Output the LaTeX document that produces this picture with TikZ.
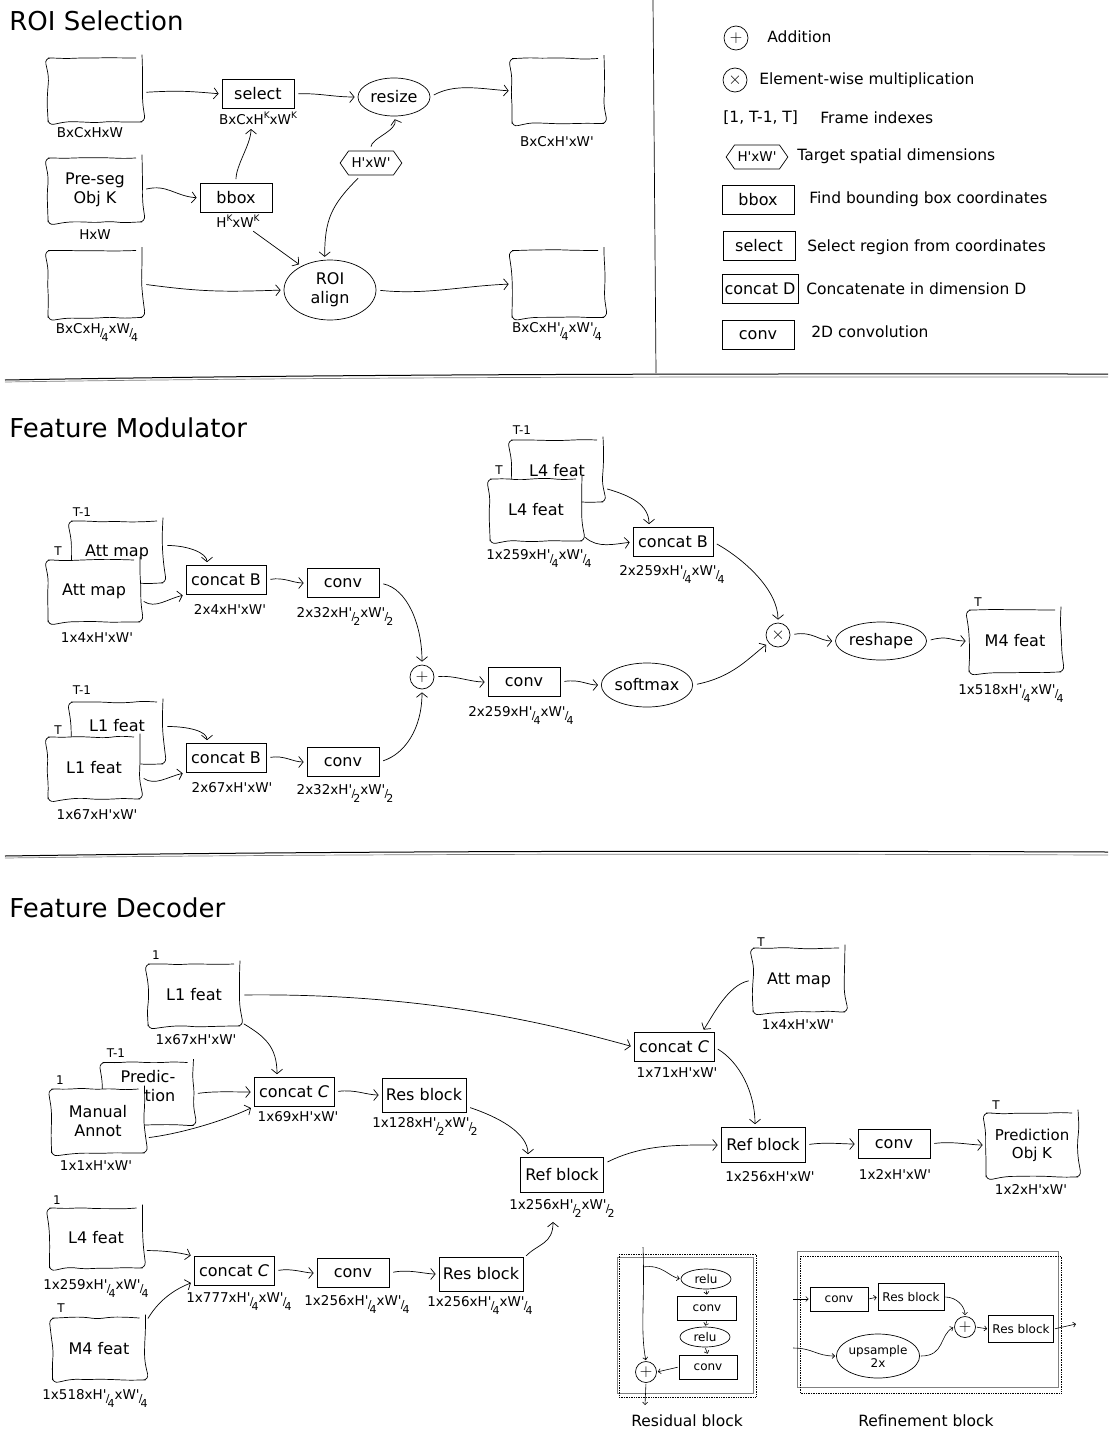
\documentclass[tikz,border=0pt]{standalone}
\usepackage{fontspec}
\setmainfont{DejaVu Sans}[Ligatures=TeXOff]
\usetikzlibrary{arrows.meta,shapes.geometric,shapes.symbols,decorations.pathmorphing}

\newcommand{\ttltxt}{\fontsize{26}{30}\selectfont}
\newcommand{\nodetxt}{\fontsize{16}{19}\selectfont}
\newcommand{\legtxtsize}{\fontsize{15.5}{18}\selectfont}
\newcommand{\dimtxt}{\fontsize{13.5}{15}\selectfont}
\newcommand{\idxtxt}{\fontsize{12}{13}\selectfont}
\newcommand{\tinytxt}{\fontsize{12}{13}\selectfont}
% fraction style /2 /4 and superscript K
\newcommand{\fq}[1]{\kern-0.05em\raisebox{-0.45ex}{\fontsize{11}{11}\selectfont/}\kern-0.15em\raisebox{-1.1ex}{\fontsize{11}{11}\selectfont #1}}
\newcommand{\kk}{\raisebox{0.85ex}{\fontsize{9}{9}\selectfont K}}

\tikzset{
  fmap/.style={draw, fill=white, rounded corners=6pt, decorate,
    decoration={random steps,segment length=14pt,amplitude=1pt},
    minimum width=92pt, minimum height=62pt, align=center, font=\nodetxt, inner sep=2pt},
  opbox/.style={draw, fill=white, minimum width=72pt, minimum height=29pt, inner sep=2pt, font=\nodetxt},
  opell/.style={draw, ellipse, inner sep=0pt, align=center, font=\nodetxt},
  hexa/.style={draw, signal, signal to=east and west, signal pointer angle=110,
    minimum height=24pt, inner sep=3pt, font=\dimtxt},
  sumnode/.style={draw, circle, minimum size=24pt, inner sep=0pt, font=\nodetxt},
  dimlab/.style={font=\dimtxt, anchor=base, inner sep=1pt},
  idx/.style={font=\idxtxt, inner sep=1pt},
  ttl/.style={font=\ttltxt, anchor=west, inner sep=0pt},
  legtxt/.style={font=\legtxtsize, anchor=west, inner sep=0pt},
  arr/.style={-{Straight Barb[length=4.5pt,width=11pt]}, shorten <=4pt, shorten >=3pt, line width=0.7pt},
  sarr/.style={-{Straight Barb[length=2.5pt,width=5pt]}, shorten <=1pt, shorten >=1pt, line width=0.6pt},
}

\begin{document}
\begin{tikzpicture}[x=1pt,y=-1pt,line width=0.7pt]
\useasboundingbox (0,0) rectangle (1110,1432);

%Separators
\draw (653,0) -- (656,373);
\draw[line width=1pt] (5,380) .. controls (400,373) and (800,374) .. (1108,374);
\draw[gray] (5,382) .. controls (400,376) and (800,377) .. (1108,377);
\draw[line width=1pt] (5,856) .. controls (400,850) and (800,851) .. (1108,852);
\draw[gray] (5,858) .. controls (400,853) and (800,854) .. (1108,855);

%%%%%%%%%%%%%%%%%%%%%%%% ROI Selection
\node[ttl] (roiTitle) at (9,21) {ROI Selection};

%Shape: feature maps
\node[fmap, minimum width=94pt, minimum height=64pt] (inA) at (95,90) {};
\node[fmap, minimum width=94pt, minimum height=64pt] (preseg) at (95,190) {Pre-seg\\Obj K};
\node[fmap, minimum width=94pt, minimum height=67pt] (inB) at (95,284) {};
\node[fmap, minimum width=92pt, minimum height=65pt] (outA) at (558,91) {};
\node[fmap, minimum width=92pt, minimum height=67pt] (outB) at (558,284) {};

%Shape: operations
\node[opbox] (select) at (258,94) {select};
\node[opbox] (bbox) at (236,198) {bbox};
\node[opell, minimum width=72pt, minimum height=38pt] (resize) at (394,97) {resize};
\node[hexa] (hw) at (371,163) {H'xW'};
\node[opell, minimum width=92pt, minimum height=60pt] (roialign) at (330,290) {ROI\\align};

% Text Node
\node[dimlab] (inALab) at (90,137.5) {BxCxHxW};
\node[dimlab] (presegLab) at (95,239.5) {HxW};
\node[dimlab] (inBLab) at (97,333) {BxCxH\fq4xW\fq4};
\node[dimlab] (outALab) at (557,146.5) {BxCxH'xW'};
\node[dimlab] (outBLab) at (557,332.5) {BxCxH'\fq4xW'\fq4};
\node[dimlab] (selLab) at (258,124.5) {BxCxH\kk{}xW\kk};
\node[dimlab] (bboxLab) at (238,227.5) {H\kk{}xW\kk};

%Connectors
\draw[arr] (inA.-3) .. controls +(35,-2) and +(-35,-3) .. (select.west);
\draw[arr] (select.east) .. controls +(25,-1) and +(-25,0) .. (resize.west);
\draw[arr] (resize.east) .. controls +(25,-14) and +(-30,-2) .. (outA.west);
\draw[arr] (preseg.east) .. controls +(25,-6) and +(-25,-2) .. (bbox.west);
\draw[arr] (bbox.north) .. controls +(0,-18) and +(0,18) .. ([xshift=-7pt]selLab.south);
\draw[arr] (hw.north) .. controls +(0,-12) and +(4,14) .. (resize.south);
\draw[arr] ([xshift=-10pt]hw.south) .. controls +(-30,30) and +(0,-40) .. (roialign.100);
\draw[arr] ([xshift=12pt]bboxLab.south) -- (roialign.140);
\draw[arr] (inB.east) .. controls +(60,8) and +(-60,2) .. (roialign.west);
\draw[arr] (roialign.east) .. controls +(50,5) and +(-50,2) .. (outB.west);

%%%%%%%%%%%%%%%%%%%%%%%% Legend
\node[sumnode] (lgAdd) at (736,38) {$+$};
\node[legtxt] (lgAddT) at (767,37) {Addition};
\node[sumnode] (lgMul) at (735,80) {$\times$};
\node[legtxt] (lgMulT) at (759,80) {Element-wise multiplication};
\node[legtxt] (lgIdx) at (723,118) {[1, T-1, T]};
\node[legtxt] (lgIdxT) at (820,118) {Frame indexes};
\node[hexa] (lgHw) at (757,157) {H'xW'};
\node[legtxt] (lgHwT) at (797,156) {Target spatial dimensions};
\node[opbox] (lgBbox) at (758,200) {bbox};
\node[legtxt] (lgBboxT) at (809,199) {Find bounding box coordinates};
\node[opbox] (lgSel) at (759,246) {select};
\node[legtxt] (lgSelT) at (807,247) {Select region from coordinates};
\node[opbox, minimum width=76pt, inner sep=1pt] (lgCat) at (760,289) {concat D};
\node[legtxt] (lgCatT) at (806,289) {Concatenate in dimension D};
\node[opbox] (lgConv) at (758,335) {conv};
\node[legtxt] (lgConvT) at (811,332) {2D convolution};

%%%%%%%%%%%%%%%%%%%%%%%% Feature Modulator
\node[ttl] (modTitle) at (9,428) {Feature Modulator};

%Shape: stacked inputs
\node[fmap] (attBack) at (117,552) {Att map};
\node[fmap] (attFront) at (94,591) {Att map};
\node[idx] (attIdxA) at (82,512) {T-1};
\node[idx] (attIdxB) at (58,551) {T};
\node[dimlab] (attLab) at (97,642) {1x4xH'xW'};

\node[fmap, text depth=16pt] (l1Back) at (117,733) {L1 feat};
\node[fmap] (l1Front) at (94,768) {L1 feat};
\node[idx] (l1IdxA) at (82,690) {T-1};
\node[idx] (l1IdxB) at (58,730) {T};
\node[dimlab] (l1Lab) at (97,819.5) {1x67xH'xW'};

\node[fmap] (l4Back) at (557,471) {L4 feat};
\node[fmap] (l4Front) at (536,510) {L4 feat};
\node[idx] (l4IdxA) at (522,430) {T-1};
\node[idx] (l4IdxB) at (499,470) {T};
\node[dimlab] (l4Lab) at (539,559.5) {1x259xH'\fq4xW'\fq4};

%Shape: operations
\node[opbox, minimum width=80pt] (catB1) at (226,580) {concat B};
\node[dimlab] (catB1Lab) at (230,614) {2x4xH'xW'};
\node[opbox] (convM1) at (343,583) {conv};
\node[dimlab] (convM1Lab) at (345,617.5) {2x32xH'\fq2xW'\fq2};
\node[opbox, minimum width=80pt] (catB2) at (226,758) {concat B};
\node[dimlab] (catB2Lab) at (232,792.5) {2x67xH'xW'};
\node[opbox] (convM2) at (343,762) {conv};
\node[dimlab] (convM2Lab) at (345,794.5) {2x32xH'\fq2xW'\fq2};
\node[sumnode] (plusM) at (422,677) {$+$};
\node[opbox] (convM3) at (524,682) {conv};
\node[dimlab] (convM3Lab) at (521,716.5) {2x259xH'\fq4xW'\fq4};
\node[opell, minimum width=77pt, minimum height=44pt] (softmax) at (647,685) {softmax};
\node[opbox, minimum width=80pt] (catB3) at (673,542) {concat B};
\node[dimlab] (catB3Lab) at (672,575) {2x259xH'\fq4xW'\fq4};
\node[sumnode] (timesM) at (778,635) {$\times$};
\node[opell, minimum width=78pt, minimum height=38pt] (reshape) at (881,641) {reshape};
\node[fmap] (m4) at (1015,641) {M4 feat};
\node[idx] (m4Idx) at (978,602) {T};
\node[dimlab] (m4Lab) at (1011,694.5) {1x518xH'\fq4xW'\fq4};

%Connectors
\draw[arr] (attBack.8) .. controls +(25,0) and +(0,-12) .. ([xshift=-19pt]catB1.north);
\draw[arr] (attFront.-10) .. controls +(15,10) and +(-18,4) .. (catB1.200);
\draw[arr] (catB1.east) .. controls +(18,-3) and +(-14,0) .. (convM1.west);
\draw[arr] (convM1.east) .. controls +(28,6) and +(0,-40) .. (plusM.north);
\draw[arr] (l1Back.8) .. controls +(25,0) and +(0,-12) .. ([xshift=-19pt]catB2.north);
\draw[arr] (l1Front.-10) .. controls +(15,10) and +(-18,4) .. (catB2.200);
\draw[arr] (catB2.east) .. controls +(18,-3) and +(-14,0) .. (convM2.west);
\draw[arr] (convM2.east) .. controls +(25,-8) and +(0,40) .. (plusM.south);
\draw[arr] (plusM.east) .. controls +(20,-2) and +(-18,0) .. (convM3.west);
\draw[arr] (convM3.east) .. controls +(20,-3) and +(-14,0) .. (softmax.west);
\draw[arr] (softmax.east) .. controls +(40,-8) and +(-20,15) .. (timesM.220);
\draw[arr] (l4Back.-20) .. controls +(28,8) and +(0,-22) .. ([xshift=-24pt]catB3.north);
\draw[arr] (l4Front.-28) .. controls +(15,14) and +(-18,2) .. (catB3.west);
\draw[arr] (catB3.east) .. controls +(32,18) and +(0,-32) .. (timesM.north);
\draw[arr] (timesM.east) .. controls +(22,-4) and +(-16,0) .. (reshape.west);
\draw[arr] (reshape.east) .. controls +(22,-6) and +(-18,0) .. (m4.west);

%%%%%%%%%%%%%%%%%%%%%%%% Feature Decoder
\node[ttl] (decTitle) at (9,908) {Feature Decoder};

%Shape: inputs
\node[fmap] (l1Dec) at (194,995) {L1 feat};
\node[idx] (l1DecIdx) at (156,955) {1};
\node[dimlab] (l1DecLab) at (196,1044.5) {1x67xH'xW'};
\node[fmap, minimum width=91pt, minimum height=63pt, align=right, text depth=16pt] (predBack) at (148,1094) {Predic-\\tion};
\node[idx] (predBackIdx) at (116,1053) {T-1};
\node[fmap, minimum width=93pt, minimum height=64pt] (manual) at (98,1121) {Manual\\Annot};
\node[idx] (manualIdx) at (60,1080) {1};
\node[dimlab] (manualLab) at (96,1170.5) {1x1xH'xW'};
\node[fmap, minimum height=64pt] (attDec) at (799,980) {Att map};
\node[idx] (attDecIdx) at (761,942) {T};
\node[dimlab] (attDecLab) at (798,1029.5) {1x4xH'xW'};
\node[fmap, minimum width=93pt, minimum height=60pt] (l4Dec) at (96,1238) {L4 feat};
\node[idx] (l4DecIdx) at (57,1200) {1};
\node[dimlab] (l4DecLab) at (96,1289.5) {1x259xH'\fq4xW'\fq4};
\node[fmap, minimum width=93pt] (m4Dec) at (99,1349) {M4 feat};
\node[idx] (m4DecIdx) at (61,1308) {T};
\node[dimlab] (m4DecLab) at (95,1399.5) {1x518xH'\fq4xW'\fq4};
\node[fmap, minimum height=64pt, font=\fontsize{15}{18}\selectfont] (predK) at (1032,1145) {Prediction\\Obj K};
\node[idx] (predKIdx) at (996,1105) {T};
\node[dimlab] (predKLab) at (1031,1194.5) {1x2xH'xW'};

%Shape: operations
\node[opbox, minimum width=80pt] (catC1) at (294,1092) {concat \textit{C}};
\node[dimlab] (catC1Lab) at (298,1121) {1x69xH'xW'};
\node[opbox, minimum width=84pt, minimum height=34pt] (resA) at (424,1095) {Res block};
\node[dimlab] (resALab) at (425,1127.5) {1x128xH'\fq2xW'\fq2};
\node[opbox, minimum width=83pt, minimum height=35pt] (refA) at (562,1175) {Ref block};
\node[dimlab] (refALab) at (562,1209.5) {1x256xH'\fq2xW'\fq2};
\node[opbox, minimum width=80pt] (catC2) at (674,1047) {concat \textit{C}};
\node[dimlab] (catC2Lab) at (677,1077.5) {1x71xH'xW'};
\node[opbox, minimum width=84pt, minimum height=35pt] (refB) at (763,1145) {Ref block};
\node[dimlab] (refBLab) at (770,1181.5) {1x256xH'xW'};
\node[opbox] (convD) at (894,1144) {conv};
\node[dimlab] (convDLab) at (895,1179.5) {1x2xH'xW'};
\node[opbox, minimum width=80pt] (catC3) at (234,1271) {concat \textit{C}};
\node[dimlab] (catC3Lab) at (239,1302.5) {1x777xH'\fq4xW'\fq4};
\node[opbox] (convC) at (353,1273) {conv};
\node[dimlab] (convCLab) at (357,1305) {1x256xH'\fq4xW'\fq4};
\node[opbox, minimum width=84pt, minimum height=34pt] (resC) at (481,1274) {Res block};
\node[dimlab] (resCLab) at (480,1306) {1x256xH'\fq4xW'\fq4};

%Connectors
\draw[arr] (l1Dec.-30) .. controls +(25,15) and +(0,-30) .. ([xshift=-17pt]catC1.north);
\draw[arr] (l1Dec.east) .. controls +(180,-2) and +(-90,-25) .. (catC2.west);
\draw[arr] (predBack.east) .. controls +(20,-3) and +(-20,0) .. (catC1.west);
\draw[arr] (manual.-20) .. controls +(40,-5) and +(-25,12) .. (catC1.200);
\draw[arr] (catC1.east) .. controls +(20,-3) and +(-15,0) .. (resA.west);
\draw[arr] (resA.-15) .. controls +(30,10) and +(0,-25) .. ([xshift=-34pt]refA.north);
\draw[arr] (attDec.west) .. controls +(-25,5) and +(10,-15) .. ([xshift=28pt]catC2.north);
\draw[arr] (catC2.east) .. controls +(25,15) and +(0,-35) .. ([xshift=-8pt]refB.north);
\draw[arr] (refA.15) .. controls +(40,-20) and +(-40,0) .. (refB.west);
\draw[arr] (refB.east) .. controls +(20,-3) and +(-15,0) .. (convD.west);
\draw[arr] (convD.east) .. controls +(22,-3) and +(-15,0) .. (predK.west);
\draw[arr] (l4Dec.-15) .. controls +(20,0) and +(-15,-4) .. (catC3.160);
\draw[arr] (m4Dec.30) .. controls +(15,-25) and +(-15,6) .. (catC3.195);
\draw[arr] (catC3.east) .. controls +(18,-3) and +(-12,0) .. (convC.west);
\draw[arr] (convC.east) .. controls +(20,-4) and +(-14,0) .. (resC.west);
\draw[arr] (resC.20) .. controls +(15,-15) and +(0,25) .. ([xshift=-9pt]refALab.south);

%%%%%%%%%%%%%%%%%%%%%%%% Residual block
\draw[gray, line width=1pt] (617,1257) rectangle (753,1393);
\draw[densely dotted] (619,1254) rectangle (756,1397);
\coordinate (rbIn) at (643,1247);
\coordinate (rbBranch) at (643,1267);
\coordinate (rbOut) at (645,1405);
\node[opell, font=\tinytxt, minimum width=50pt, minimum height=20pt] (relu1) at (706,1279) {relu};
\node[opbox, font=\tinytxt, minimum width=59pt, minimum height=24pt] (rbConv1) at (707,1308) {conv};
\node[opell, font=\tinytxt, minimum width=50pt, minimum height=20pt] (relu2) at (705,1337) {relu};
\node[opbox, font=\tinytxt, minimum width=58pt, minimum height=24pt] (rbConv2) at (708,1367) {conv};
\node[sumnode, minimum size=21pt] (rbPlus) at (646,1372) {$+$};
\draw[sarr, shorten <=0pt] (rbIn) .. controls (645,1300) and (640,1330) .. (rbPlus.north);
\draw[sarr, shorten <=0pt] (rbBranch) .. controls (662,1264) and (668,1276) .. (relu1.west);
\draw[sarr] (relu1.south) -- (rbConv1.north);
\draw[sarr] (rbConv1.south) -- (relu2.north);
\draw[sarr] (relu2.south) -- (rbConv2.north);
\draw[sarr] (rbConv2.west) -- (rbPlus.east);
\draw[sarr, shorten >=0pt] (rbPlus.south) -- (rbOut);
\node[font=\legtxtsize] (rbTitle) at (687,1421) {Residual block};

%%%%%%%%%%%%%%%%%%%%%%%% Refinement block
\draw[gray, line width=1pt] (797,1251) rectangle (1058,1387);
\draw[densely dotted] (800,1256) rectangle (1061,1393);
\coordinate (rfIn1) at (793,1299);
\coordinate (rfIn2) at (793,1348);
\coordinate (rfOut) at (1076,1324);
\node[opbox, font=\tinytxt, minimum width=58pt, minimum height=24pt] (rfConv) at (839,1299) {conv};
\node[opbox, font=\tinytxt, minimum width=66pt, minimum height=27pt, inner sep=1pt] (rfRes) at (911,1297) {Res block};
\node[sumnode, minimum size=21pt] (rfPlus) at (965,1327) {$+$};
\node[opell, font=\tinytxt, minimum width=73pt, minimum height=44pt] (rfUp) at (878,1356) {upsample\\2x};
\node[opbox, font=\tinytxt, minimum width=65pt, minimum height=27pt, inner sep=1pt] (rfRes2) at (1021,1329) {Res block};
\draw[sarr, shorten <=0pt] (rfIn1) -- (rfConv.west);
\draw[sarr] (rfConv.east) -- (rfRes.west);
\draw[sarr] (rfRes.east) .. controls +(12,0) and +(0,-10) .. (rfPlus.north);
\draw[sarr, shorten <=0pt] (rfIn2) .. controls +(20,0) and +(-20,0) .. (rfUp.west);
\draw[sarr] (rfUp.east) .. controls +(25,0) and +(-15,8) .. (rfPlus.west);
\draw[sarr] (rfPlus.east) -- (rfRes2.west);
\draw[sarr, shorten >=0pt] (rfRes2.east) -- (rfOut);
\node[font=\legtxtsize] (rfTitle) at (926,1421) {Refinement block};

\end{tikzpicture}
\end{document}
